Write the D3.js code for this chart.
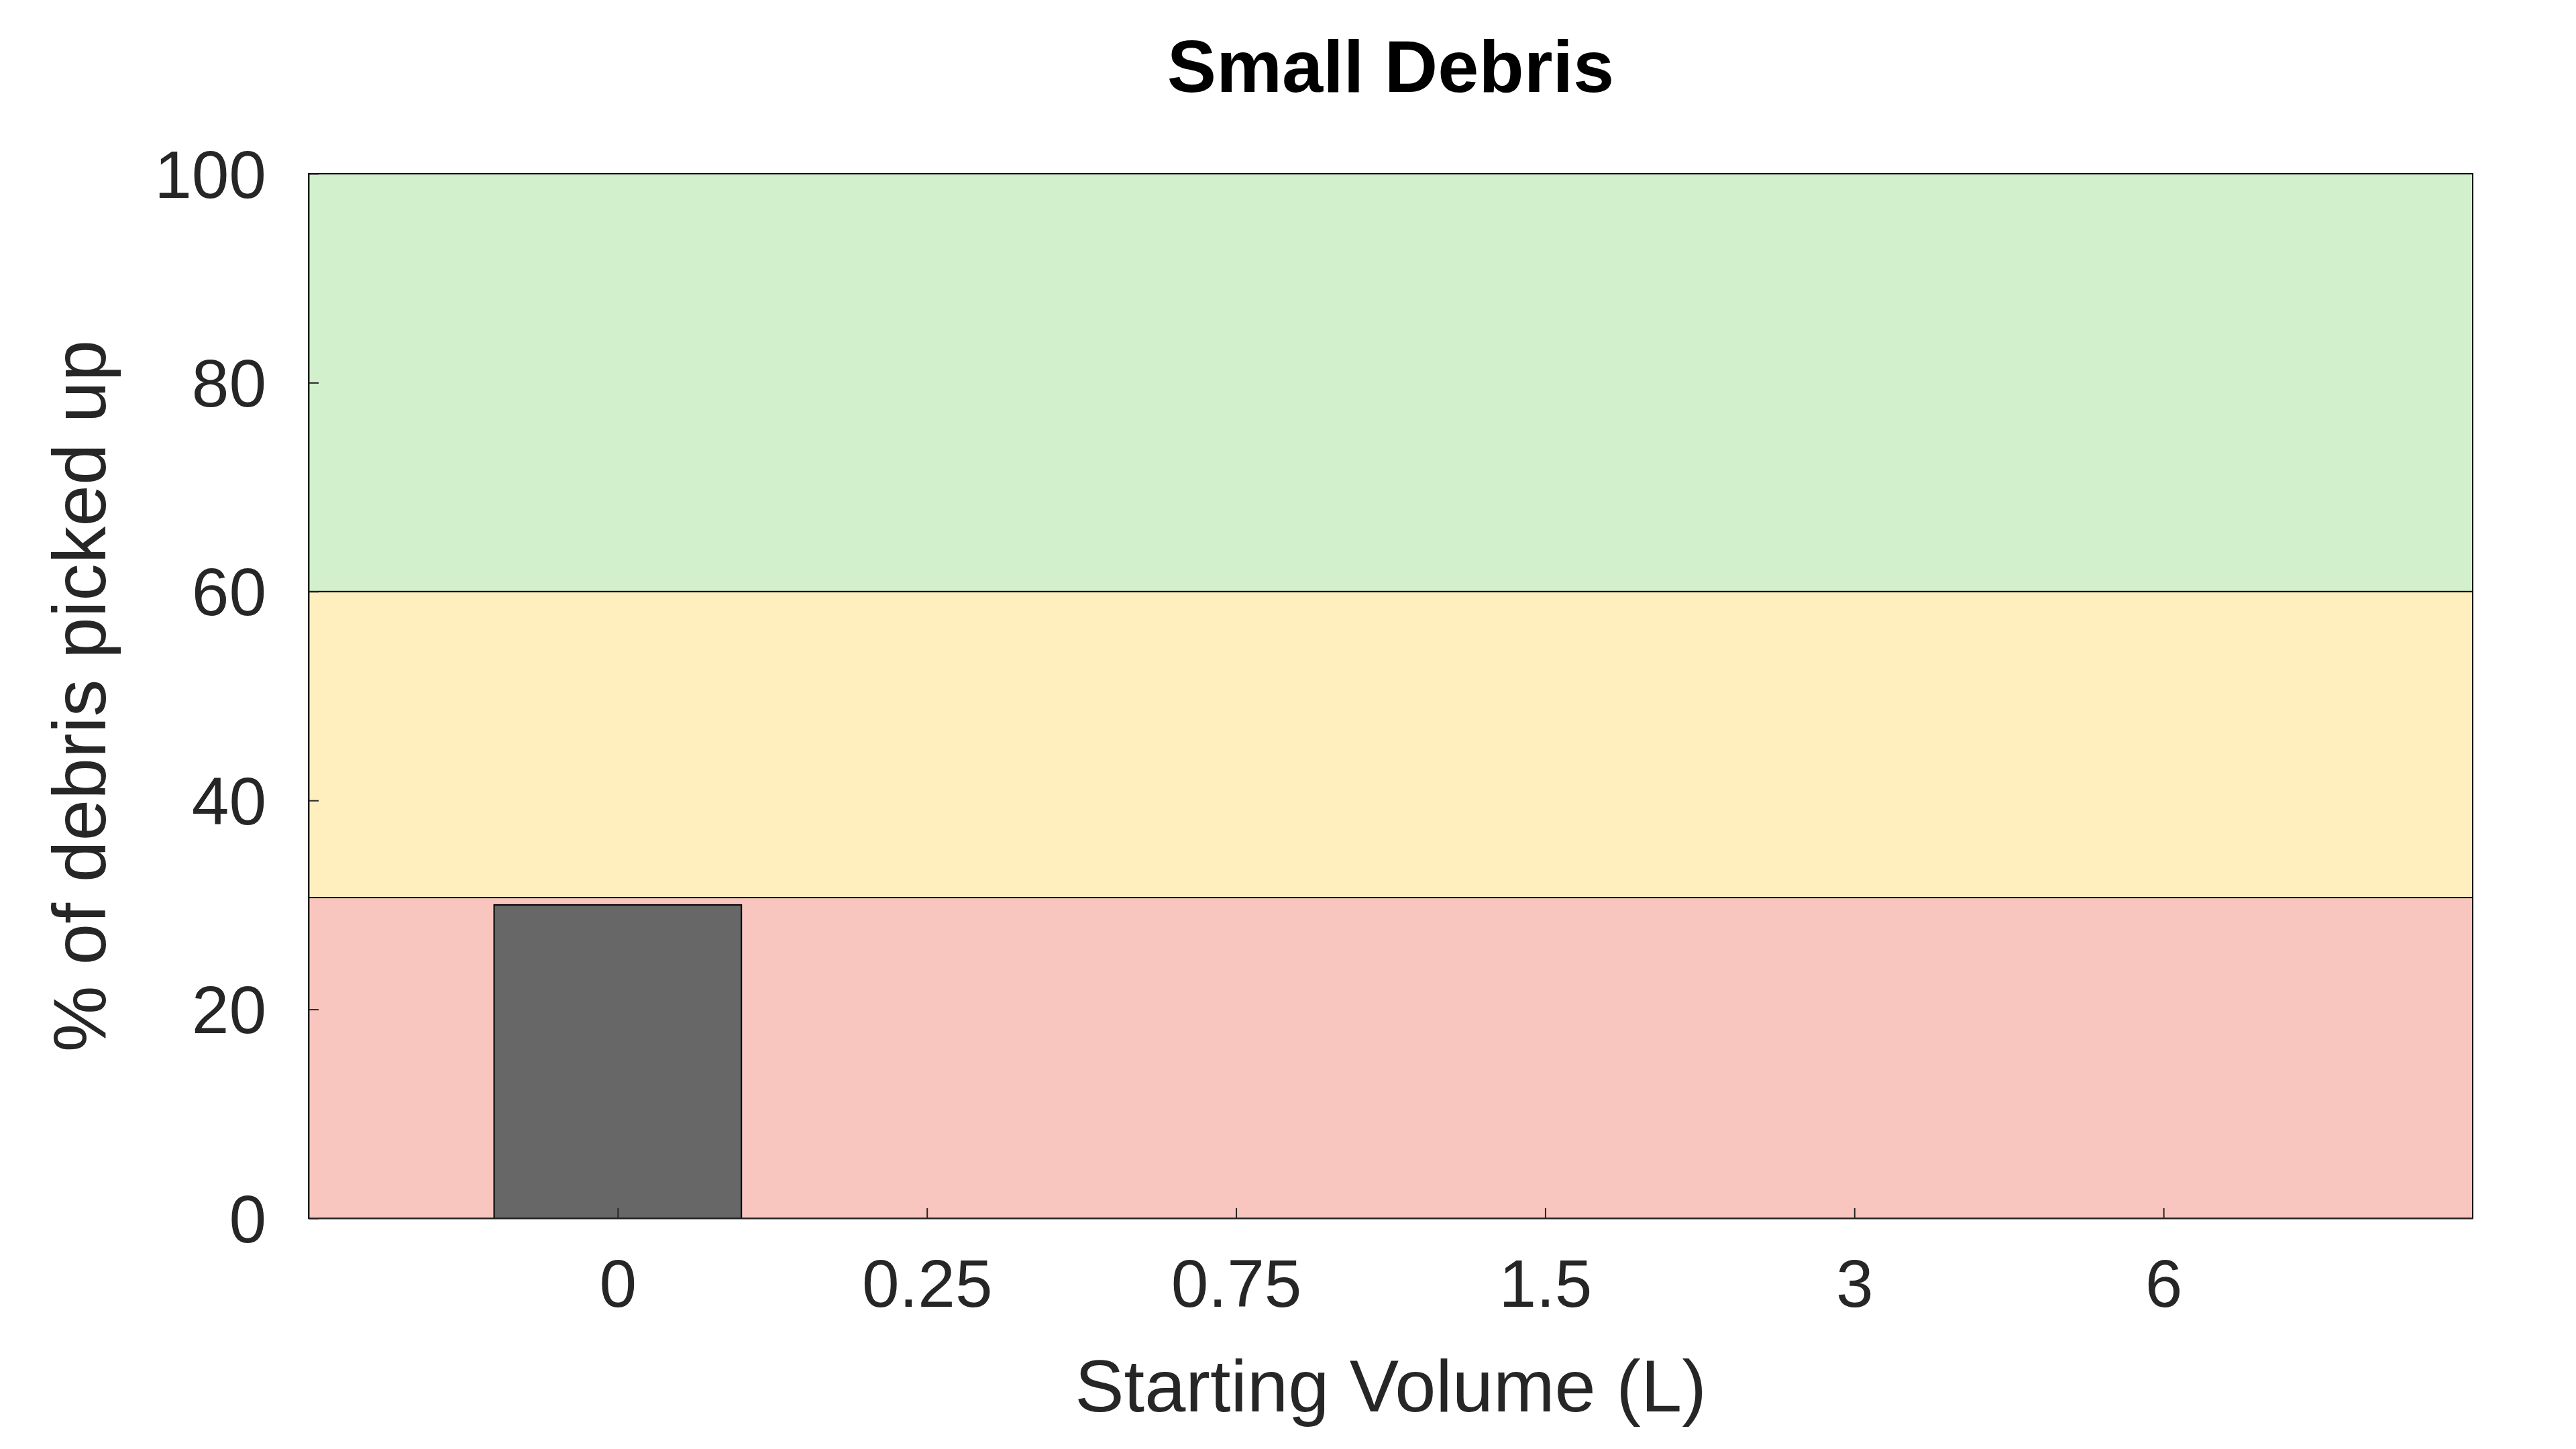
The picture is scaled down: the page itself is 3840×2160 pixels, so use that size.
<!DOCTYPE html>
<html>
<head>
<meta charset="utf-8">
<script src="https://cdn.jsdelivr.net/npm/d3@7"></script>
<style>
  html, body { margin: 0; padding: 0; background: #ffffff; }
  svg { display: block; }
  text { font-family: "Liberation Sans", Arial, Helvetica, sans-serif; }
</style>
</head>
<body>
<script>
// ---- data ----
const categories = ["0", "0.25", "0.75", "1.5", "3", "6"];
const values = [30, null, null, null, null, null];
const yTicks = [0, 20, 40, 60, 80, 100];
const bandLow = [0, 30.7, 60];
const bandHigh = [30.7, 60, 100];
const bandColors = ["#f9c6bf", "#ffefbf", "#d3f0cd"];
const titleText = "Small Debris";
const xLabelText = "Starting Volume (L)";
const yLabelText = "% of debris picked up";

// ---- layout ----
const W = 3840, H = 2160;
const plotLeft = 460, plotRight = 3686, plotTop = 259, plotBottom = 1816;
const axisColor = "#262626";

const svg = d3.select("body").append("svg").attr("width", W).attr("height", H);

const x = d3.scalePoint().domain(categories).range([plotLeft, plotRight]).padding(1);
const y = d3.scaleLinear().domain([0, 100]).range([plotBottom, plotTop]);
const barW = x.step() * 0.8;

// bands
svg.append("g").selectAll("rect").data(bandLow).join("rect")
  .attr("x", plotLeft)
  .attr("width", plotRight - plotLeft)
  .attr("y", (d, i) => y(bandHigh[i]))
  .attr("height", (d, i) => y(d) - y(bandHigh[i]))
  .attr("fill", (d, i) => bandColors[i])
  .attr("stroke", "#000")
  .attr("stroke-width", 2);

// bars
const barData = categories.map((c, i) => ({ c, v: values[i] })).filter(d => d.v != null);
svg.append("g").selectAll("rect").data(barData).join("rect")
  .attr("x", d => x(d.c) - barW / 2)
  .attr("width", barW)
  .attr("y", d => y(d.v))
  .attr("height", d => y(0) - y(d.v))
  .attr("fill", "#676767")
  .attr("stroke", "#000")
  .attr("stroke-width", 2);

// axes
const fontSize = 100;
const xAxis = svg.append("g").attr("transform", `translate(0,${plotBottom})`)
  .call(d3.axisBottom(x).tickSizeInner(-15).tickSizeOuter(0).tickPadding(61));
const yAxis = svg.append("g").attr("transform", `translate(${plotLeft},0)`)
  .call(d3.axisLeft(y).tickValues(yTicks).tickSizeInner(-15).tickSizeOuter(0).tickPadding(63));

[xAxis, yAxis].forEach(a => {
  a.select(".domain").attr("stroke", axisColor).attr("stroke-width", 2);
  a.selectAll(".tick line").attr("stroke", axisColor).attr("stroke-width", 2);
  a.selectAll(".tick text").attr("fill", axisColor)
    .style("font-size", fontSize + "px")
    .style("font-family", '"Liberation Sans", Arial, Helvetica, sans-serif');
});
xAxis.selectAll(".tick text").attr("dy", "0.71em");
yAxis.selectAll(".tick text").attr("dy", "0.35em");

// title
svg.append("text")
  .attr("x", (plotLeft + plotRight) / 2).attr("y", 137)
  .attr("text-anchor", "middle")
  .attr("fill", "#000")
  .style("font-size", "110px").style("font-weight", "bold")
  .text(titleText);

// x label
svg.append("text")
  .attr("x", (plotLeft + plotRight) / 2).attr("y", 2104)
  .attr("text-anchor", "middle")
  .attr("fill", axisColor)
  .style("font-size", "110px")
  .text(xLabelText);

// y label
svg.append("text")
  .attr("transform", `translate(157,${(plotTop + plotBottom) / 2}) rotate(-90)`)
  .attr("text-anchor", "middle")
  .attr("fill", axisColor)
  .style("font-size", "111px")
  .text(yLabelText);
</script>
</body>
</html>
